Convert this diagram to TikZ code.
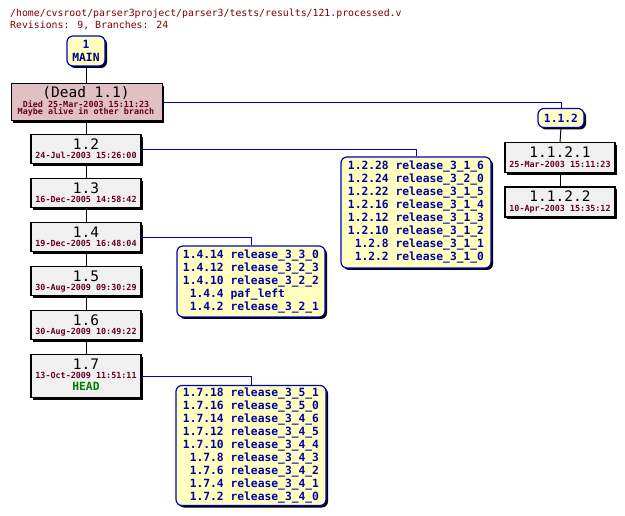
\documentclass[tikz,border=0pt]{standalone}
\usepackage{fontspec}
\usetikzlibrary{shadows}
\newfontfamily\monof{DejaVu Sans Mono}
\definecolor{hdrred}{RGB}{128,0,0}
\definecolor{datered}{RGB}{102,0,34}
\definecolor{relblue}{RGB}{0,0,165}
\definecolor{linblue}{RGB}{0,0,200}
\definecolor{numblue}{RGB}{0,0,210}
\definecolor{mainnavy}{RGB}{0,0,128}
\definecolor{revfill}{RGB}{240,240,240}
\definecolor{deadfill}{RGB}{224,192,196}
\definecolor{tagfill}{RGB}{255,255,192}
\definecolor{headgreen}{RGB}{0,128,0}
\newcommand\hdrfnt{\monof\fontsize{9.85}{12}\selectfont}
\newcommand\bigfnt{\monof\fontsize{14.5}{15}\selectfont}
\newcommand\datefnt{\monof\bfseries\fontsize{8.4}{9}\selectfont}
\newcommand\tagfnt{\monof\bfseries\fontsize{11.3}{13}\selectfont}
\newcommand\relrows[1]{\tagfnt\begin{tabular}{@{}r@{\ }l@{}}#1\end{tabular}}
\tikzset{
  hardshadow/.style={drop shadow={shadow xshift=2pt,shadow yshift=-2pt,fill=black,opacity=1}},
  revbox/.style={draw=black, line width=1.2pt, fill=revfill, minimum width=110pt, inner sep=0pt, anchor=north, hardshadow},
  deadbox/.style={draw=black, line width=1.2pt, fill=deadfill, inner sep=0pt, anchor=north west, hardshadow},
  tagbox/.style={draw=linblue, line width=1.2pt, fill=tagfill, rounded corners=6pt, inner sep=0pt, hardshadow},
  bigtxt/.style={anchor=base, inner sep=0pt, font=\bigfnt, text=black},
  datetxt/.style={anchor=base, inner sep=0pt, font=\datefnt, text=datered},
  hdrtxt/.style={anchor=base west, inner sep=0pt, font=\hdrfnt, text=hdrred},
  trunk/.style={draw=black, line width=1pt},
  branch/.style={draw=linblue, line width=1pt},
}
\newcommand\revnode[5]{% name, x, top, label, date
  \node[revbox, minimum height=29pt] (#1) at (#2,#3) {};
  \node[bigtxt] (#1n) at (#2,#3+16) {#4};
  \node[datetxt] (#1d) at (#2,#3+24.5) {#5};
}
\begin{document}
\begin{tikzpicture}[x=1pt,y=-1pt]
\useasboundingbox (0,0) rectangle (625,516);
% header
\node[hdrtxt] (hdr1) at (10,17) {/home/cvsroot/parser3project/parser3/tests/results/121.processed.v};
\node[hdrtxt] (hdr2) at (10,28.5) {Revisions: 9, Branches: 24};

% MAIN tag
\node[tagbox, minimum width=38pt, minimum height=30pt] (main) at (86,51) {};
\node[anchor=base, inner sep=0pt, font=\tagfnt, text=numblue] (mainn) at (86,48.3) {1};
\node[anchor=base, inner sep=0pt, font=\tagfnt, text=mainnavy] (mainl) at (86,61.3) {MAIN};

% dead revision
\node[deadbox, minimum width=151pt, minimum height=37pt] (dead) at (10.5,83) {};
\node[bigtxt] (deadn) at (86,97.7) {(Dead 1.1)};
\node[datetxt] (deadd) at (86,107.3) {Died 25-Mar-2003 15:11:23};
\node[datetxt] (deadm) at (86,114.5) {Maybe alive in other branch};

% trunk revisions
\revnode{r12}{86}{134}{1.2}{24-Jul-2003 15:26:00}
\revnode{r13}{86}{178}{1.3}{16-Dec-2005 14:58:42}
\revnode{r14}{86}{222}{1.4}{19-Dec-2005 16:48:04}
\revnode{r15}{86}{266}{1.5}{30-Aug-2009 09:30:29}
\revnode{r16}{86}{310}{1.6}{30-Aug-2009 10:49:22}
\node[revbox, minimum height=43pt] (r17) at (86,354) {};
\node[bigtxt] (r17n) at (86,369.5) {1.7};
\node[datetxt] (r17d) at (86,379) {13-Oct-2009 11:51:11};
\node[anchor=base, inner sep=0pt, font=\tagfnt, text=headgreen] (r17h) at (86,390.7) {HEAD};

% branch 1.1.2
\node[tagbox, minimum width=46pt, minimum height=19pt] (b112) at (561,118) {};
\node[anchor=base, inner sep=0pt, font=\tagfnt, text=numblue] (b112n) at (561,122.7) {1.1.2};
\node[revbox, minimum height=30pt] (r1121) at (560,142) {};
\node[bigtxt] (r1121n) at (560,157.7) {1.1.2.1};
\node[datetxt] (r1121d) at (560,167.5) {25-Mar-2003 15:11:23};
\node[revbox, minimum height=30pt] (r1122) at (560,186.5) {};
\node[bigtxt] (r1122n) at (560,201.7) {1.1.2.2};
\node[datetxt] (r1122d) at (560,212) {10-Apr-2003 15:35:12};

% release tag boxes
\node[tagbox, minimum width=150pt, minimum height=111pt, text=relblue, yshift=-1.5pt] (rel12) at (416,211) {\relrows{
1.2.28 & release\_3\_1\_6\\
1.2.24 & release\_3\_2\_0\\
1.2.22 & release\_3\_1\_5\\
1.2.16 & release\_3\_1\_4\\
1.2.12 & release\_3\_1\_3\\
1.2.10 & release\_3\_1\_2\\
1.2.8 & release\_3\_1\_1\\
1.2.2 & release\_3\_1\_0}};
\node[tagbox, minimum width=148pt, minimum height=71pt, text=relblue, yshift=-1.5pt] (rel14) at (251,280) {\relrows{
1.4.14 & release\_3\_3\_0\\
1.4.12 & release\_3\_2\_3\\
1.4.10 & release\_3\_2\_2\\
1.4.4 & paf\_left\\
1.4.2 & release\_3\_2\_1}};
\node[tagbox, minimum width=150pt, minimum height=120pt, text=relblue, yshift=-1.5pt] (rel17) at (251,444) {\relrows{
1.7.18 & release\_3\_5\_1\\
1.7.16 & release\_3\_5\_0\\
1.7.14 & release\_3\_4\_6\\
1.7.12 & release\_3\_4\_5\\
1.7.10 & release\_3\_4\_4\\
1.7.8 & release\_3\_4\_3\\
1.7.6 & release\_3\_4\_2\\
1.7.4 & release\_3\_4\_1\\
1.7.2 & release\_3\_4\_0}};

% connectors
\draw[trunk] (main.south) -- (dead.north -| main.south);
\draw[trunk] (dead.south -| r12.north) -- (r12.north);
\draw[trunk] (r12.south) -- (r13.north);
\draw[trunk] (r13.south) -- (r14.north);
\draw[trunk] (r14.south) -- (r15.north);
\draw[trunk] (r15.south) -- (r16.north);
\draw[trunk] (r16.south) -- (r17.north);
\draw[branch] (dead.east) -| (b112.north);
\draw[trunk] (b112.south) -- (r1121.north);
\draw[trunk] (r1121.south) -- (r1122.north);
\draw[branch] (r12.east) -| (rel12.north);
\draw[branch] (r14.east) -| (rel14.north);
\draw[branch] (r17.east) -| (rel17.north);
\end{tikzpicture}
\end{document}
